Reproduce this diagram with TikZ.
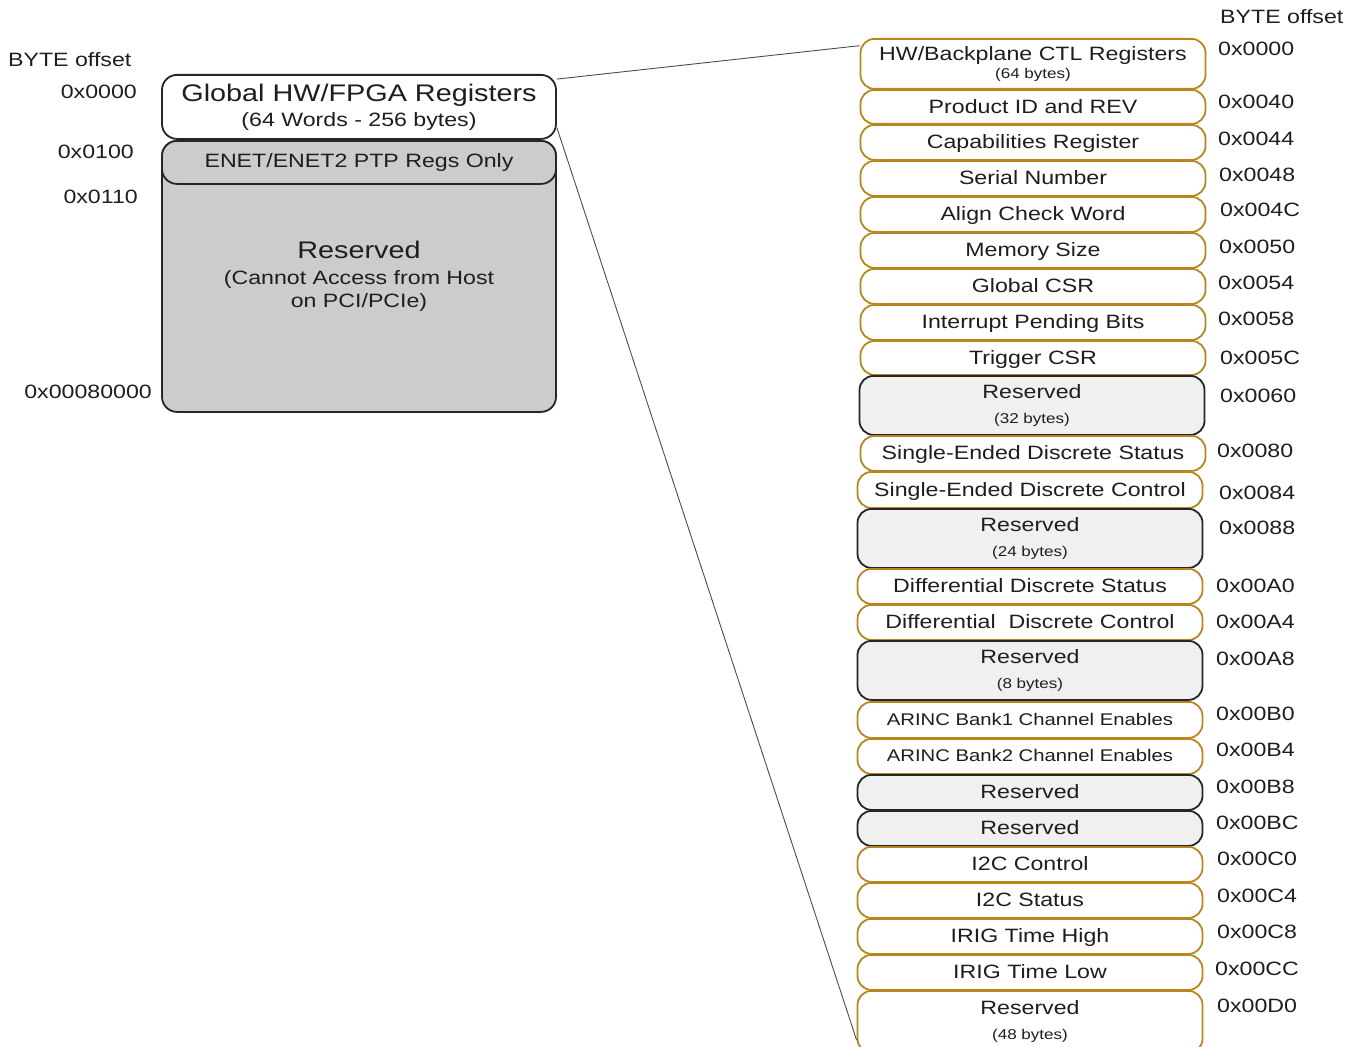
\documentclass[tikz,border=0pt]{standalone}
\usepackage{fontspec}
\setmainfont[FakeStretch=1.2]{Liberation Sans}
\usetikzlibrary{calc,positioning}
\definecolor{regedge}{RGB}{184,134,30}
\definecolor{rsvfill}{RGB}{240,240,240}
\definecolor{hostfill}{RGB}{204,204,204}
\definecolor{inktext}{RGB}{30,30,30}
\newcommand{\regfont}{\fontsize{19.3}{23}\selectfont}
\newcommand{\bytesfont}{\fontsize{14.2}{17}\selectfont}
\newcommand{\hostbigfont}{\fontsize{24}{28}\selectfont}
\newcommand{\arincfont}{\fontsize{16.9}{20}\selectfont}
\tikzset{%
	regbox/.style   = {draw=regedge, line width=1.8pt, rounded corners=14pt, fill=white, minimum width=345pt, inner sep=0pt, anchor=north, align=center, text=inktext, font=\regfont, text height=12.4pt, text depth=0pt},
	rsvbox/.style   = {regbox, draw=black!85, fill=rsvfill},
	twoline/.style  = {text height={}, text depth={}},
	hostbox/.style  = {draw=black!85, line width=1.8pt, rounded corners=15pt, minimum width=394pt, inner sep=0pt, anchor=north, align=center, text=inktext, font=\regfont},
	offset/.style   = {anchor=west, inner sep=0pt, text=inktext, font=\regfont},
	hostoff/.style  = {anchor=east, inner sep=0pt, text=inktext, font=\regfont},
	link/.style     = {draw=black!70, line width=0.9pt},
}

\begin{document}
\begin{tikzpicture}[x=1pt,y=-1pt]
	\clip (0,0) rectangle (1364,1046);
	% host side
	\node[hostoff, anchor=west] (hostbyte) at (8,60) {BYTE offset};
	\node[hostoff] (h0000) at (137,92) {0x0000};
	\node[hostoff] (h0100) at (134,152) {0x0100};
	\node[hostoff] (h0110) at (138,197) {0x0110};
	\node[hostoff] (h80000) at (152,392) {0x00080000};
	\node[hostbox, fill=hostfill, minimum height=271pt] (hostrsv) at (359,140) {{\hostbigfont Reserved}\\[3pt](Cannot Access from Host\\on PCI/PCIe)};
	\node[hostbox, fill=hostfill, minimum height=43pt] (enet) at (359,140) {ENET/ENET2 PTP Regs Only};
	\node[hostbox, fill=white, minimum height=64pt, font=\hostbigfont] (glob) at (359,74) {Global HW/FPGA Registers\\[-3pt]{\regfont (64 Words - 256 bytes)}};
	% register column
	\node[offset] (regbyte) at (1220,17) {BYTE offset};
	\node[regbox, twoline, minimum height=50pt] (hw) at (1033,38) {HW/Backplane CTL Registers\\[-5pt]{\bytesfont (64 bytes)}};
	\node[regbox, minimum height=34pt] (prodid) at (1033,89) {Product ID and REV};
	\node[regbox, minimum height=35pt] (caps) at (1033,124) {Capabilities Register};
	\node[regbox, minimum height=35pt] (serial) at (1033,160) {Serial Number};
	\node[regbox, minimum height=35pt] (align) at (1033,196) {Align Check Word};
	\node[regbox, minimum height=35pt] (memsize) at (1033,232) {Memory Size};
	\node[regbox, minimum height=35pt] (gcsr) at (1033,268) {Global CSR};
	\node[regbox, minimum height=35pt] (irq) at (1033,304) {Interrupt Pending Bits};
	\node[regbox, minimum height=34pt] (trig) at (1033,340) {Trigger CSR};
	\node[rsvbox, twoline, minimum height=59pt] (rsvA) at (1032,375) {Reserved\\[2pt]{\bytesfont (32 bytes)}};
	\node[regbox, minimum height=35pt] (sestat) at (1033,435) {Single-Ended Discrete Status};
	\node[regbox, minimum height=36pt] (sectl) at (1030,471) {Single-Ended Discrete Control};
	\node[rsvbox, twoline, minimum height=59pt] (rsvB) at (1030,508) {Reserved\\[2pt]{\bytesfont (24 bytes)}};
	\node[regbox, minimum height=35pt] (dstat) at (1030,568) {Differential Discrete Status};
	\node[regbox, minimum height=35pt] (dctl) at (1030,604) {Differential\ \ Discrete Control};
	\node[rsvbox, twoline, minimum height=59pt] (rsvC) at (1030,640) {Reserved\\[2pt]{\bytesfont (8 bytes)}};
	\node[regbox, minimum height=36pt, font=\arincfont, text height=10.8pt] (arinc1) at (1030,701) {ARINC Bank1 Channel Enables};
	\node[regbox, minimum height=35pt, font=\arincfont, text height=10.8pt] (arinc2) at (1030,738) {ARINC Bank2 Channel Enables};
	\node[rsvbox, minimum height=35pt] (rsvD) at (1030,774) {Reserved};
	\node[rsvbox, minimum height=35pt] (rsvE) at (1030,810) {Reserved};
	\node[regbox, minimum height=35pt] (i2cctl) at (1030,846) {I2C Control};
	\node[regbox, minimum height=35pt] (i2cstat) at (1030,882) {I2C Status};
	\node[regbox, minimum height=35pt] (irighi) at (1030,918) {IRIG Time High};
	\node[regbox, minimum height=35pt] (iriglo) at (1030,954) {IRIG Time Low};
	\node[regbox, twoline, minimum height=62pt] (rsvF) at (1030,990) {Reserved\\[2pt]{\bytesfont (48 bytes)}};
	% offsets
	\node[offset] (o00) at (1218,49) {0x0000};
	\node[offset] (o40) at (1218,102) {0x0040};
	\node[offset] (o44) at (1218,139) {0x0044};
	\node[offset] (o48) at (1219,175) {0x0048};
	\node[offset] (o4C) at (1220,210) {0x004C};
	\node[offset] (o50) at (1219,247) {0x0050};
	\node[offset] (o54) at (1218,283) {0x0054};
	\node[offset] (o58) at (1218,319) {0x0058};
	\node[offset] (o5C) at (1220,358) {0x005C};
	\node[offset] (o60) at (1220,396) {0x0060};
	\node[offset] (o80) at (1217,451) {0x0080};
	\node[offset] (o84) at (1219,493) {0x0084};
	\node[offset] (o88) at (1219,528) {0x0088};
	\node[offset] (oA0) at (1216,586) {0x00A0};
	\node[offset] (oA4) at (1216,622) {0x00A4};
	\node[offset] (oA8) at (1216,659) {0x00A8};
	\node[offset] (oB0) at (1216,714) {0x00B0};
	\node[offset] (oB4) at (1216,750) {0x00B4};
	\node[offset] (oB8) at (1216,787) {0x00B8};
	\node[offset] (oBC) at (1216,823) {0x00BC};
	\node[offset] (oC0) at (1217,859) {0x00C0};
	\node[offset] (oC4) at (1217,896) {0x00C4};
	\node[offset] (oC8) at (1217,932) {0x00C8};
	\node[offset] (oCC) at (1215,969) {0x00CC};
	\node[offset] (oD0) at (1217,1006) {0x00D0};
	% zoom lines
	\draw[link] (glob.8) -- (hw.174);
	\draw[link] (glob.-6) -- (rsvF.186);
\end{tikzpicture}
\end{document}
